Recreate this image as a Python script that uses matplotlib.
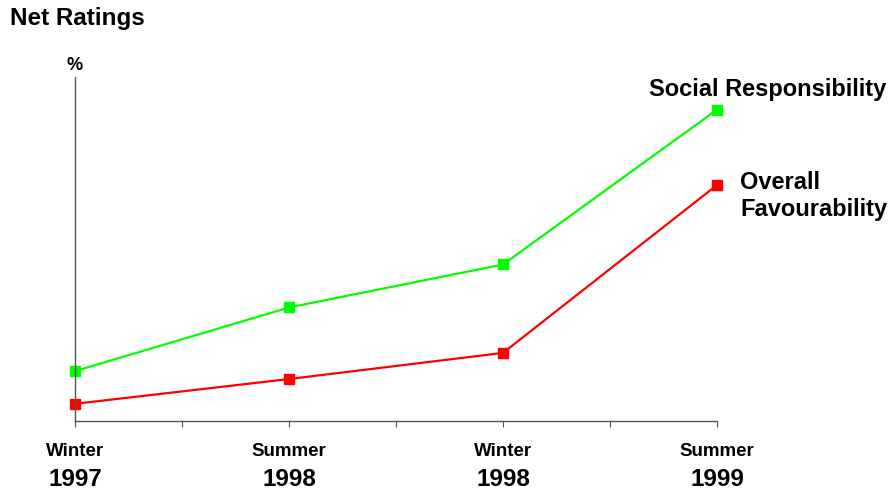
import matplotlib.pyplot as plt

plt.rcParams['font.family'] = ['Liberation Sans', 'DejaVu Sans']

# Net ratings (%) (approximate)
periods = ['Winter', 'Summer', 'Winter', 'Summer']
years = ['1997', '1998', '1998', '1999']
social = [14.5, 33.0, 45.5, 90.5]
overall = [5.0, 12.2, 19.8, 68.6]

fig = plt.figure(figsize=(8.88, 4.92), dpi=100)
ax = fig.add_axes([75 / 888, 71 / 492, 642 / 888, 344 / 492])

x = list(range(len(periods)))
ax.plot(x, social, color='#00ff00', lw=1.6, marker='s', ms=7.5, clip_on=False)
ax.plot(x, overall, color='#ff0000', lw=1.6, marker='s', ms=7.5, clip_on=False)

ax.set_xlim(0, len(periods) - 1)
ax.set_ylim(0, 100)
ax.set_xticks([i * 0.5 for i in range(2 * len(periods) - 1)])
ax.set_xticklabels([])
ax.set_yticks([])
ax.tick_params(axis='x', direction='out', length=4, color='#555555')
for s in ['top', 'right']:
    ax.spines[s].set_visible(False)
for s in ['left', 'bottom']:
    ax.spines[s].set_color('#555555')
    ax.spines[s].set_linewidth(1)

# category labels under the axis
for i, (p, yr) in enumerate(zip(periods, years)):
    ax.annotate(p, xy=(i, 0), xycoords=('data', 'axes fraction'),
                xytext=(0, -31), textcoords='offset pixels',
                ha='center', va='center', fontsize=13.5, fontweight='bold')
    ax.annotate(yr, xy=(i, 0), xycoords=('data', 'axes fraction'),
                xytext=(0, -59), textcoords='offset pixels',
                ha='center', va='center', fontsize=17.5, fontweight='bold')

# series labels next to the last points
ax.annotate('Social Responsibility', xy=(x[-1], social[-1]),
            xytext=(169, 20), textcoords='offset pixels',
            ha='right', va='center', fontsize=17, fontweight='bold',
            annotation_clip=False)
ax.annotate('Overall\nFavourability', xy=(x[-1], overall[-1]),
            xytext=(23, -11), textcoords='offset pixels',
            ha='left', va='center', fontsize=17, fontweight='bold',
            linespacing=1.25, annotation_clip=False)

fig.text(10 / 888, 1 - 18 / 492, 'Net Ratings', ha='left', va='center',
         fontsize=17.5, fontweight='bold')
fig.text(75 / 888, 1 - 66 / 492, '%', ha='center', va='center',
         fontsize=13, fontweight='bold')

fig.savefig('out.png', dpi=100)
